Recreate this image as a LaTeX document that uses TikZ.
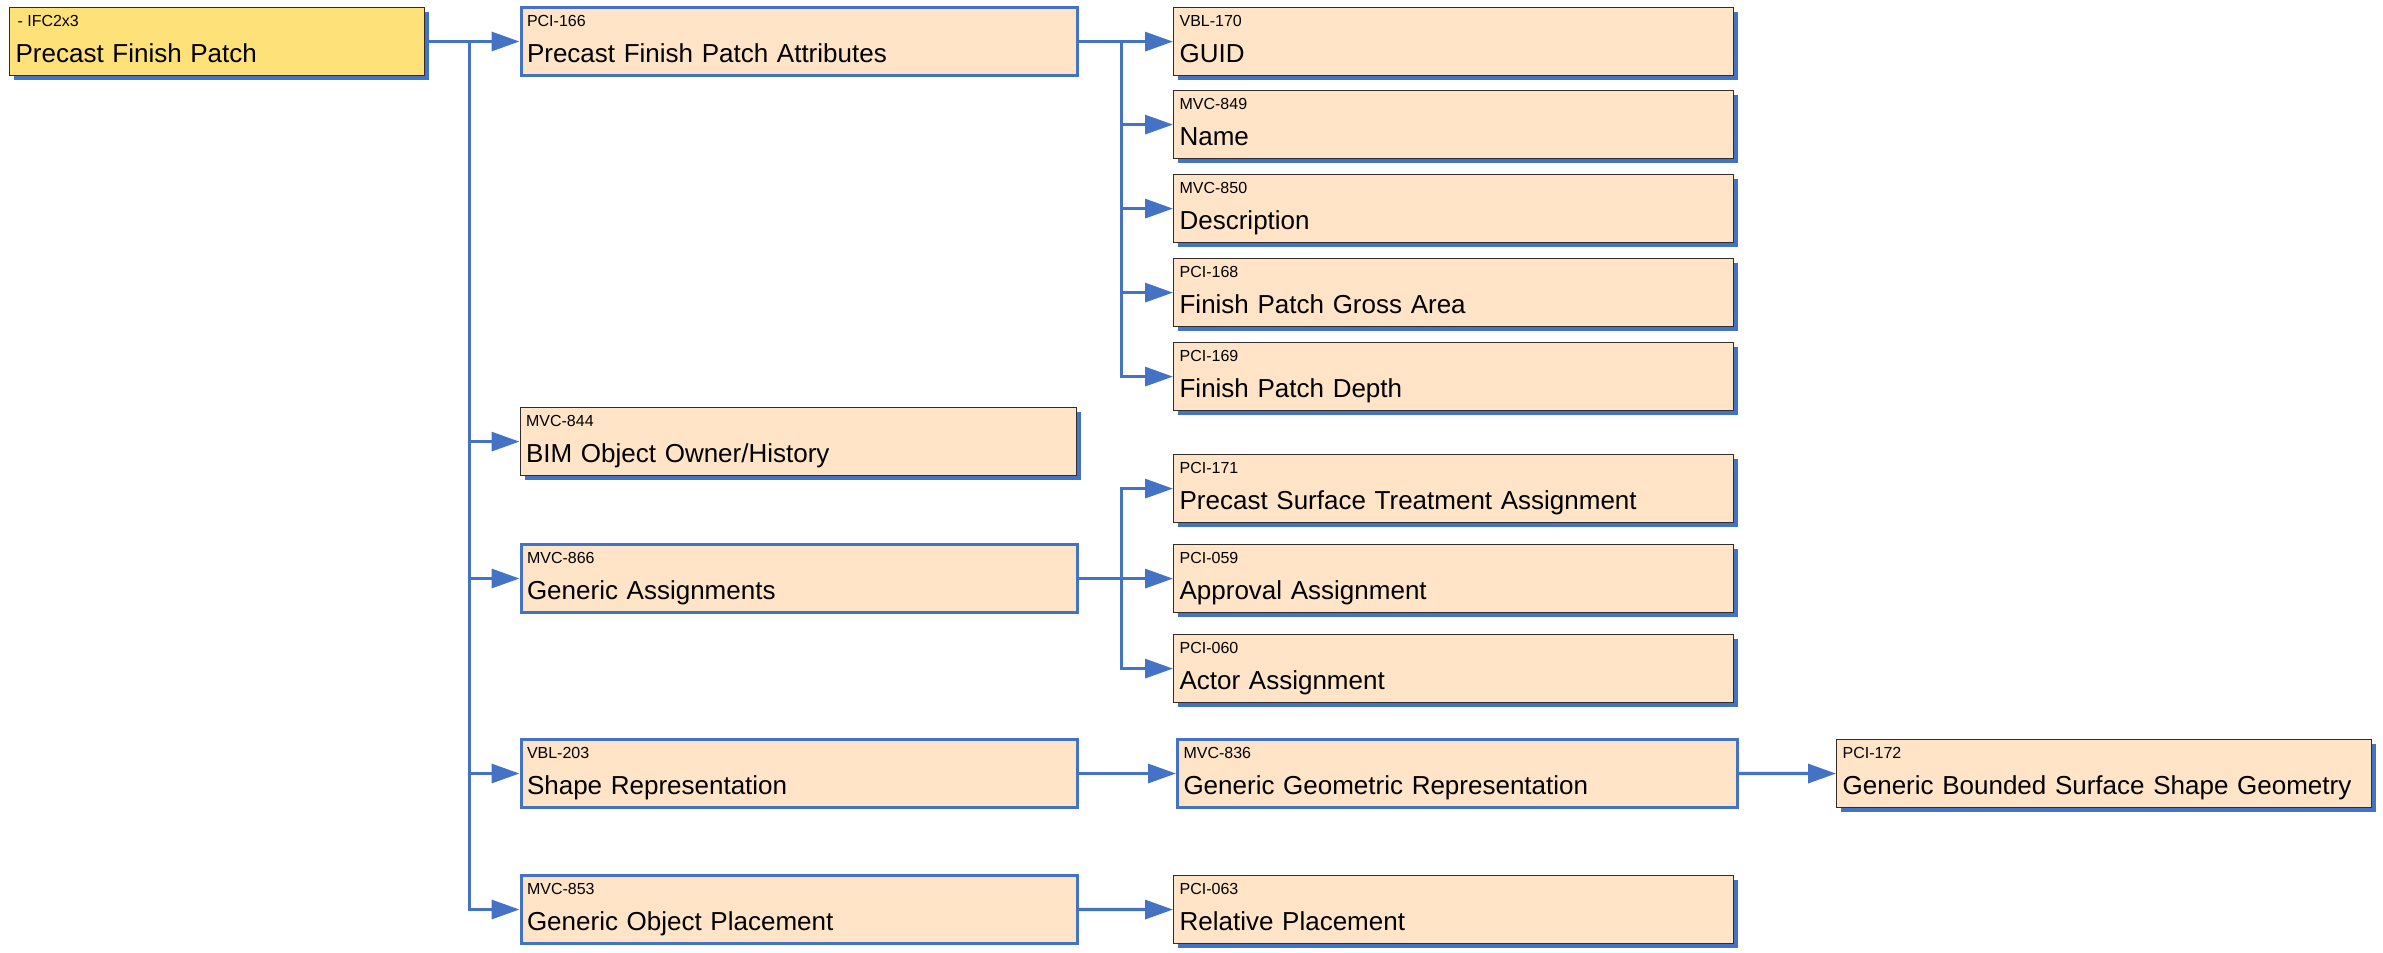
\documentclass[tikz,border=0pt]{standalone}
\usepackage{fontspec}
\setmainfont{Liberation Sans}
\usetikzlibrary{arrows.meta,shadows}

\definecolor{linkblue}{RGB}{68,114,196}
\definecolor{peach}{RGB}{255,228,200}
\definecolor{rootyellow}{RGB}{255,225,122}
\definecolor{edgegray}{RGB}{50,45,40}

\newcommand{\idf}{\fontsize{16}{18}\selectfont}
\newcommand{\mainf}{\fontsize{26}{36}\selectfont}

\tikzset{
  card/.style={rectangle, anchor=north west, fill=peach, minimum height=68pt,
    inner xsep=6pt, inner ysep=0pt, align=left, font=\mainf,
    text height=12pt, text depth=42pt},
  leafbox/.style={card, draw=edgegray, line width=1.2pt,
    drop shadow={shadow xshift=4.5pt, shadow yshift=-4.5pt, fill=linkblue, opacity=1}},
  parentbox/.style={card, draw=linkblue, line width=3pt},
  link/.style={draw=linkblue, line width=3.2pt, -{Triangle[length=28pt,width=19pt]}},
}

\begin{document}
\begin{tikzpicture}[x=1pt, y=-1pt]

\def\colA{9}
\def\colB{519.5}
\def\colC{1173}
\def\colD{1836}

\useasboundingbox (0,0) rectangle (2383,953);

%root
\node[leafbox, fill=rootyellow, text width=403pt] (root) at (\colA,7)
  {{\idf\hspace{2pt}-\hspace{4.4pt}IFC2x3}\\Precast Finish Patch};

%first column
\node[parentbox, text width=544pt] (attr) at (\colB,6)
  {{\idf PCI-166}\\Precast Finish Patch Attributes};
\node[leafbox, text width=544pt] (owner) at (\colB,407)
  {{\idf MVC-844}\\BIM Object Owner/History};
\node[parentbox, text width=544pt] (assign) at (\colB,543)
  {{\idf MVC-866}\\Generic Assignments};
\node[parentbox, text width=544pt] (shape) at (\colB,738)
  {{\idf VBL-203}\\Shape Representation};
\node[parentbox, text width=544pt] (place) at (\colB,874)
  {{\idf MVC-853}\\Generic Object Placement};

%second column
\node[leafbox, text width=548pt] (guid) at (\colC,7)
  {{\idf VBL-170}\\GUID};
\node[leafbox, text width=548pt] (name) at (\colC,90)
  {{\idf MVC-849}\\Name};
\node[leafbox, text width=548pt] (descr) at (\colC,174)
  {{\idf MVC-850}\\Description};
\node[leafbox, text width=548pt] (gross) at (\colC,258)
  {{\idf PCI-168}\\Finish Patch Gross Area};
\node[leafbox, text width=548pt] (depth) at (\colC,342)
  {{\idf PCI-169}\\Finish Patch Depth};
\node[leafbox, text width=548pt] (treat) at (\colC,454)
  {{\idf PCI-171}\\Precast Surface Treatment Assignment};
\node[leafbox, text width=548pt] (approval) at (\colC,544)
  {{\idf PCI-059}\\Approval Assignment};
\node[leafbox, text width=548pt] (actor) at (\colC,634)
  {{\idf PCI-060}\\Actor Assignment};
\node[parentbox, text width=548pt] (geomrep) at (\colC+3,738)
  {{\idf MVC-836}\\Generic Geometric Representation};
\node[leafbox, text width=548pt] (relplace) at (\colC,875)
  {{\idf PCI-063}\\Relative Placement};

%third column
\node[leafbox, text width=523pt] (bounded) at (\colD,739)
  {{\idf PCI-172}\\Generic Bounded Surface Shape Geometry};

%links from root
\foreach \c in {attr, owner, assign, shape, place}{
    \draw[link] (root.east) -- ++(44,0) |- (\c.west);
}

%links to attributes
\foreach \c in {guid, name, descr, gross, depth}{
    \draw[link] (attr.east) -- ++(43,0) |- (\c.west);
}

%links to assignments
\foreach \c in {treat, approval, actor}{
    \draw[link] (assign.east) -- ++(43,0) |- (\c.west);
}

%straight links
\draw[link] (shape) -- (geomrep);
\draw[link] (place) -- (relplace);
\draw[link] (geomrep) -- (bounded);

\end{tikzpicture}
\end{document}
